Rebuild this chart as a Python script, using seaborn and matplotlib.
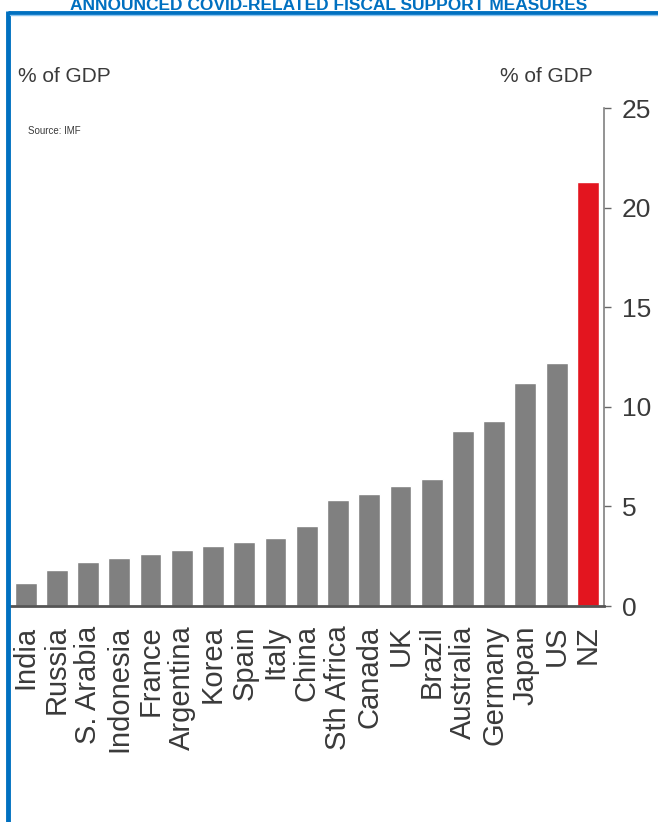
import matplotlib
matplotlib.use("Agg")
import matplotlib.pyplot as plt
from matplotlib.lines import Line2D
import numpy as np
import pandas as pd
import seaborn as sns

# data
countries = ['India', 'Russia', 'S. Arabia', 'Indonesia', 'France', 'Argentina', 'Korea',
             'Spain', 'Italy', 'China', 'Sth Africa', 'Canada', 'UK', 'Brazil',
             'Australia', 'Germany', 'Japan', 'US', 'NZ']
support = [1.15, 1.8, 2.2, 2.4, 2.6, 2.8, 3.0, 3.2, 3.4, 4.0, 5.3, 5.6, 6.0, 6.4,
           8.8, 9.3, 11.2, 12.2, 21.3]
y_ticks = [0, 5, 10, 15, 20, 25]

grey = '#808080'
red = '#e3151f'
blue = '#0070c0'
txt = '#3a3a3a'

df = pd.DataFrame({'country': countries, 'pct': support})
colours = [red if c == 'NZ' else grey for c in countries]

sns.set_style('white')
plt.rcParams['font.family'] = ['Liberation Sans', 'DejaVu Sans']

W, H = 658, 822
fig = plt.figure(figsize=(W / 100, H / 100), dpi=100)
ax = fig.add_axes([10 / W, (H - 606) / H, 593.5 / W, 498 / H])

sns.barplot(data=df, x='country', y='pct', hue='country', palette=colours,
            legend=False, width=0.7, saturation=1, ax=ax)

ax.set_xlim(-0.5, len(countries) - 0.5)
ax.set_ylim(0, 25)
ax.set_xlabel('')
ax.set_ylabel('')

# right hand axis
ax.yaxis.tick_right()
ax.set_yticks(y_ticks)
ax.tick_params(axis='y', direction='out', length=5, width=1, color='#666666',
               labelsize=19, labelcolor=txt, pad=8)
for s in ['top', 'left']:
    ax.spines[s].set_visible(False)
ax.spines['right'].set_color('#808080')
ax.spines['right'].set_linewidth(1.2)
ax.spines['bottom'].set_color('#555555')
ax.spines['bottom'].set_linewidth(2)

# category labels + separator ticks between bars
ax.set_xticks(range(len(countries)))
ax.set_xticklabels(countries, rotation=90, va='top', ha='center')
ax.tick_params(axis='x', which='major', length=0, labelsize=21, labelcolor=txt, pad=14)
ax.set_xticks(np.arange(-0.5, len(countries)), minor=True)
ax.tick_params(axis='x', which='minor', direction='out', length=7, width=1, color='#555555')

# annotations
fig.text(18 / W, 1 - 76 / H, '% of GDP', fontsize=15, color=txt, va='center', ha='left')
fig.text(500 / W, 1 - 76 / H, '% of GDP', fontsize=15, color=txt, va='center', ha='left')
fig.text(28 / W, 1 - 131 / H, 'Source: IMF', fontsize=7, color=txt, va='center', ha='left')

# title along the top edge and blue frame
fig.text(329 / W, 1 - 10 / H, 'ANNOUNCED COVID-RELATED FISCAL SUPPORT MEASURES',
         fontsize=12.5, fontweight='bold', color=blue, ha='center', va='baseline')
fig.add_artist(Line2D([7.5 / W, 1], [1 - 13 / H, 1 - 13 / H], color=blue, lw=3.5,
                      transform=fig.transFigure, solid_capstyle='butt'))
fig.add_artist(Line2D([7.5 / W, 7.5 / W], [0, 1 - 11.5 / H], color=blue, lw=3.5,
                      transform=fig.transFigure, solid_capstyle='butt'))
fig.add_artist(Line2D([10 / W, 1], [1 - 15.5 / H, 1 - 15.5 / H], color='#8cc4ee', lw=1,
                      transform=fig.transFigure))

fig.savefig('out.png', dpi=100)
